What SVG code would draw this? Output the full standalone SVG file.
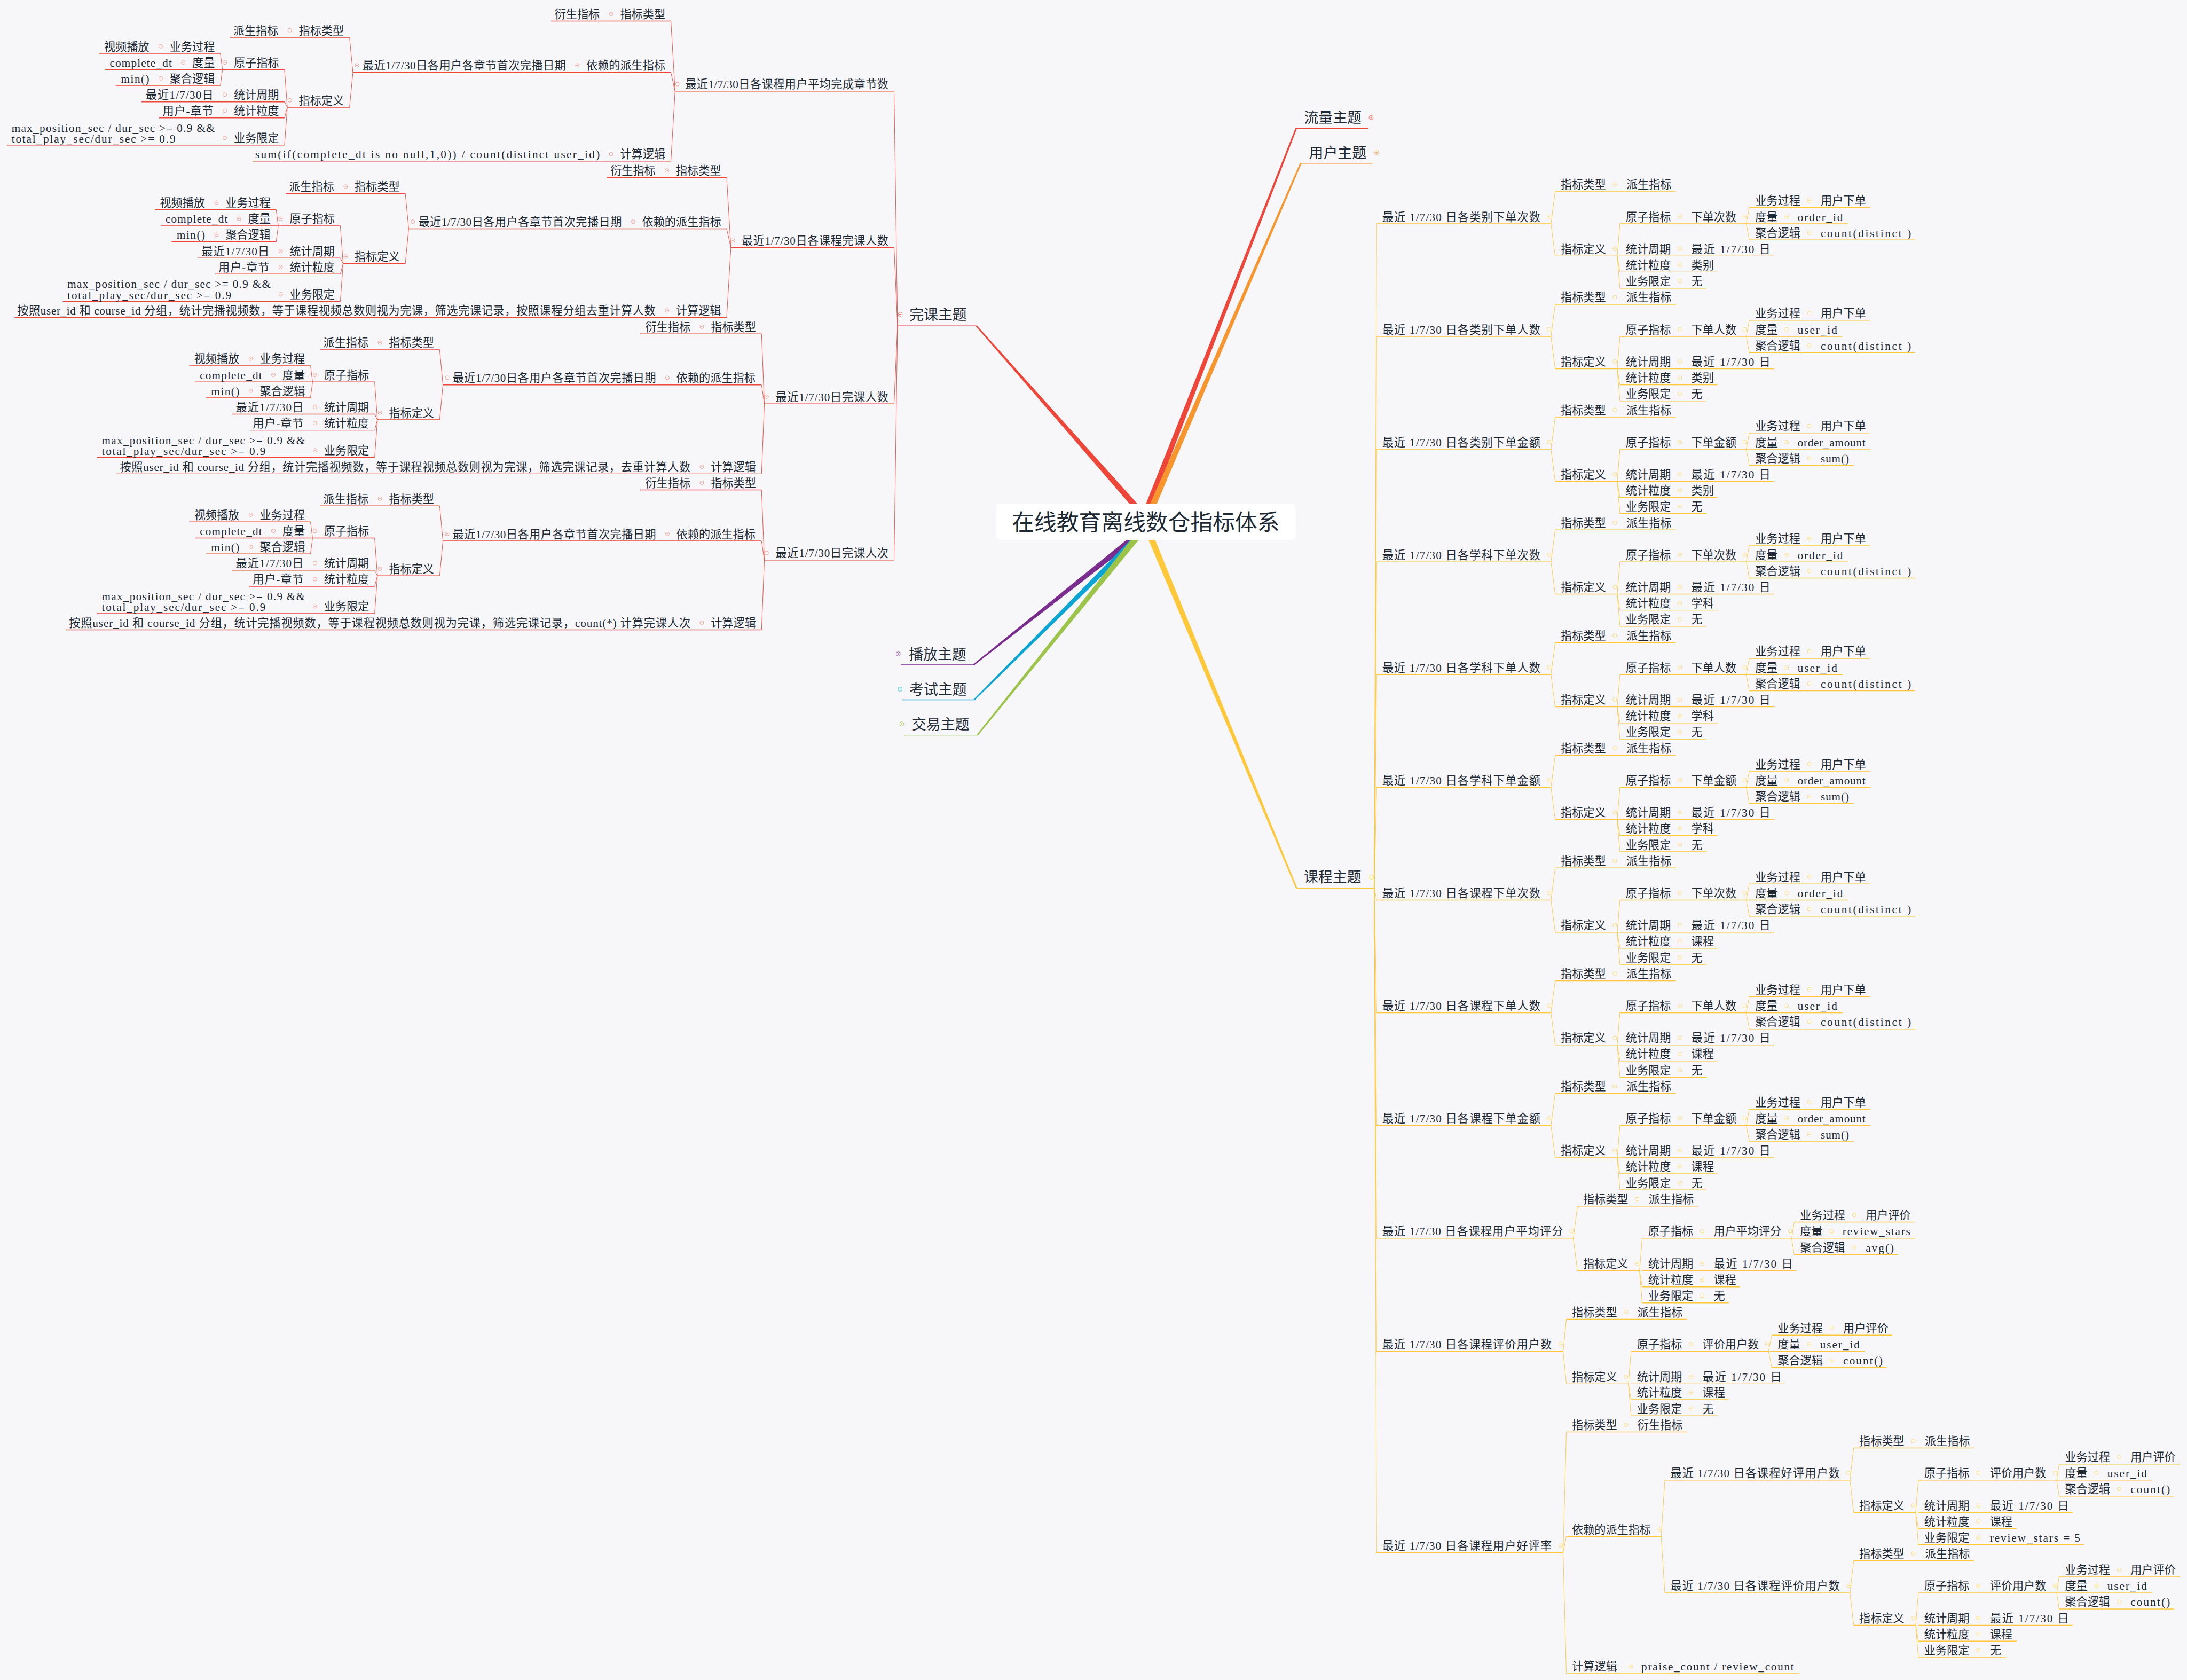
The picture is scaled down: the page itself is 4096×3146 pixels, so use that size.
<svg xmlns="http://www.w3.org/2000/svg" width="4096" height="3146" viewBox="0 0 4096 3146">
<defs>
<style>
.t{font-family:"Liberation Serif","Noto Sans CJK SC",serif;font-size:8.1px;fill:#1D2935}
.e{text-anchor:end}
.tp{font-size:10.3px}
.rt{font-family:"Liberation Serif","Noto Sans CJK SC",serif;font-size:16px;fill:#1D2935;text-anchor:middle}
.ur{fill:none;stroke:#EF463A;stroke-width:0.55}
.uy{fill:none;stroke:#FFC83A;stroke-width:0.55}
.cr{fill:none;stroke:#EF463A;stroke-width:0.35}
.cy{fill:none;stroke:#FFC83A;stroke-width:0.35}
</style>
<g id="mr"><circle r="1.35" fill="#fff" stroke="#F2857D" stroke-width="0.3"/><path d="M-0.7 0H0.7" stroke="#F2857D" stroke-width="0.3"/></g>
<g id="my"><circle r="1.35" fill="#fff" stroke="#FFCF5C" stroke-width="0.3"/><path d="M-0.7 0H0.7" stroke="#FFCF5C" stroke-width="0.3"/></g>
<g id="tR"><circle r="1.5" fill="#fff" stroke="#EF463A" stroke-width="0.3"/><path d="M-0.8 0H0.8" stroke="#EF463A" stroke-width="0.3"/></g>
<g id="tY"><circle r="1.5" fill="#fff" stroke="#FFC83A" stroke-width="0.3"/><path d="M-0.8 0H0.8" stroke="#FFC83A" stroke-width="0.3"/></g>
<g id="pR"><circle r="1.5" fill="#fff" stroke="#EF463A" stroke-width="0.3"/><path d="M-0.8 0H0.8M0 -0.8V0.8" stroke="#EF463A" stroke-width="0.3"/></g>
<g id="pO"><circle r="1.5" fill="#fff" stroke="#F7952E" stroke-width="0.3"/><path d="M-0.8 0H0.8M0 -0.8V0.8" stroke="#F7952E" stroke-width="0.3"/></g>
<g id="pP"><circle r="1.5" fill="#fff" stroke="#7B2D8E" stroke-width="0.3"/><path d="M-0.8 0H0.8M0 -0.8V0.8" stroke="#7B2D8E" stroke-width="0.3"/></g>
<g id="pC"><circle r="1.5" fill="#fff" stroke="#0AA5D3" stroke-width="0.3"/><path d="M-0.8 0H0.8M0 -0.8V0.8" stroke="#0AA5D3" stroke-width="0.3"/></g>
<g id="pG"><circle r="1.5" fill="#fff" stroke="#9CC34A" stroke-width="0.3"/><path d="M-0.8 0H0.8M0 -0.8V0.8" stroke="#9CC34A" stroke-width="0.3"/></g>
</defs>
<rect width="4096" height="3146" fill="#F7F7F9"/>
<g transform="scale(2.612245)">

<g id="branches">
<polygon fill="#EF463A" points="822.3,375.5 825.7,372.5 700.4,233.3 699.6,233.9"/>
<polygon fill="#EF463A" points="821,374.8 816.8,373.2 928.8,91.9 929.8,92.3"/>
<polygon fill="#F7952E" points="823.5,374.9 819.3,373.1 932.1,116.9 933.1,117.3"/>
<polygon fill="#FFC83A" points="822.5,373.1 818.3,374.9 929.1,636.9 930.1,636.5"/>
<polygon fill="#7B2D8E" points="821.4,381.8 818.6,378.2 697.7,476.2 698.3,477"/>
<polygon fill="#0AA5D3" points="821.6,382.1 818.4,378.9 698,501.4 698.8,502"/>
<polygon fill="#9CC34A" points="821,381.4 817.5,378.6 700.3,526.7 701.1,527.3"/>
</g>

<g id="connectors">
<g id="conn-wanke">
<path class="cr" d="M643.5 233.6L641 65.4M643.5 233.6L641 177.5M643.5 233.6L641 289.5M643.5 233.6L641 401.5"/>
<path class="cr" d="M484 65.4L481 15.1M484 65.4L481 52M484 65.4L481 115.5"/>
<path class="cr" d="M524 177.5L521 127.3M524 177.5L521 164M524 177.5L521 227.6"/>
<path class="cr" d="M548 289.5L546 239.3M548 289.5L546 275.9M548 289.5L546 339.7"/>
<path class="cr" d="M548 401.5L546 351.2M548 401.5L546 387.8M548 401.5L546 451.5"/>
<path id="cInner" class="cr" d="M253 52L250.6 26.8M253 52L250.6 77M206 77L204 49.9M206 77L204 73M206 77L204 84.5M206 77L204 104M159.5 49.9L158 38.3M159.5 49.9L158.6 49.9M159.5 49.9L158 61.3"/>
<use href="#cInner" transform="translate(40,112)"/>
<use href="#cInner" transform="translate(64.6,223.9)"/>
<use href="#cInner" transform="translate(64.6,335.8)"/>
</g>
<g id="conn-kecheng">
<path class="cy" d="M985.3 636.7L987 160.4M985.3 636.7L987 241.2M985.3 636.7L987 322M985.3 636.7L987 402.8M985.3 636.7L987 483.6M985.3 636.7L987 564.4M985.3 636.7L987 645.2M985.3 636.7L987 726M985.3 636.7L987 806.8M985.3 636.7L987 887.7M985.3 636.7L987 968.7M985.3 636.7L987 1113"/>
<path id="cBlk" class="cy" d="M1112 160.4L1115 137.4M1112 160.4L1115 183.5M1159.5 183.5L1161.4 160.4M1159.5 183.5L1161.4 183.5M1159.5 183.5L1161.4 195M1159.5 183.5L1161.4 206.6M1252 160.4L1254.2 148.8M1252 160.4L1252.7 160.4M1252 160.4L1254.2 172"/>
<use href="#cBlk" transform="translate(0,80.8)"/>
<use href="#cBlk" transform="translate(0,161.6)"/>
<use href="#cBlk" transform="translate(0,242.4)"/>
<use href="#cBlk" transform="translate(0,323.2)"/>
<use href="#cBlk" transform="translate(0,404)"/>
<use href="#cBlk" transform="translate(0,484.8)"/>
<use href="#cBlk" transform="translate(0,565.6)"/>
<use href="#cBlk" transform="translate(0,646.4)"/>
<path class="cy" d="M1128 887.7L1131 864.7M1128 887.7L1131 911M1175.5 911L1177.4 887.7M1175.5 911L1177.4 922.5M1175.5 911L1177.4 934M1284.5 887.7L1286.4 876.1M1284.5 887.7L1286.4 899.4"/>
<path class="cy" d="M1120.7 968.7L1123 945.7M1120.7 968.7L1123 992M1167.5 992L1169.4 968.7M1167.5 992L1169.4 1003.3M1167.5 992L1169.4 1014.9M1268 968.7L1270.3 957.1M1268 968.7L1270.3 980.3"/>
<path class="cy" d="M1120.7 1113L1123 1026.5M1120.7 1113L1123 1101.6M1120.7 1113L1123 1199.7M1191 1101.6L1193.6 1061.1M1191 1101.6L1193.6 1141.9"/>
<path id="cDer" class="cy" d="M1326.4 1061.1L1329 1038M1326.4 1061.1L1329 1084.3M1373.5 1084.3L1375.4 1061.1M1373.5 1084.3L1375.4 1095.7M1373.5 1084.3L1375.4 1107.4M1474.6 1061.1L1476.3 1049.6M1474.6 1061.1L1476.3 1072.6"/>
<use href="#cDer" transform="translate(0,80.8)"/>
</g>
</g>

<g id="root">
<rect x="714" y="361" width="215" height="26" rx="3" fill="#fff"/>
<text class="rt" x="821.5" y="380">在线教育离线数仓指标体系</text>
</g>

<g id="topic-liuliang"><path class="ur" d="M929 92.1H981"/><text class="t tp" x="935" y="88.2">流量主题</text><use href="#pR" x="983" y="84.3"/></g>
<g id="topic-yonghu"><path fill="none" stroke="#F7952E" stroke-width="0.55" d="M932.6 117.1H984"/><text class="t tp" x="938.5" y="113.3">用户主题</text><use href="#pO" x="987" y="109.4"/></g>
<g id="topic-bofang"><path fill="none" stroke="#7B2D8E" stroke-width="0.55" d="M646 476.6H698"/><text class="t tp" x="651.6" y="472.8">播放主题</text><use href="#pP" x="644" y="468.8"/></g>
<g id="topic-kaoshi"><path fill="none" stroke="#0AA5D3" stroke-width="0.55" d="M646.6 501.7H698.4"/><text class="t tp" x="652" y="497.9">考试主题</text><use href="#pC" x="645.3" y="494"/></g>
<g id="topic-jiaoyi"><path fill="none" stroke="#9CC34A" stroke-width="0.55" d="M648 527H700.7"/><text class="t tp" x="653.8" y="522.8">交易主题</text><use href="#pG" x="646.5" y="518.9"/></g>
<g id="topic-wanke"><path class="ur" d="M643.5 233.6H700"/><text class="t tp" x="652" y="229.4">完课主题</text><use href="#tR" x="645.4" y="225.3"/></g>
<g id="topic-kecheng"><path class="uy" d="M929.6 636.7H985.3"/><text class="t tp" x="934.8" y="632.3">课程主题</text><use href="#tY" x="983.3" y="628.8"/></g>

<!-- 完课主题 subtrees -->
<g id="wk1">
<g id="wk1-name"><path class="ur" d="M484 65.4H641"/><text class="t e" x="637" y="63.3" textLength="145.8">最近1/7/30日各课程用户平均完成章节数</text><use href="#mr" x="485.6" y="60.3"/></g>
<g id="wk1-type"><path class="ur" d="M395 15.1H481"/><text class="t e" x="477" y="13">指标类型</text><use href="#mr" x="438.2" y="10"/><text class="t e" x="430" y="13">衍生指标</text></g>
<g id="wk1-calc"><path class="ur" d="M181 115.5H481"/><text class="t e" x="477" y="113.4">计算逻辑</text><use href="#mr" x="438.2" y="110.4"/><text class="t e" x="430" y="113.4" textLength="247.05">sum(if(complete_dt is no null,1,0)) / count(distinct user_id)</text></g>
<g id="wk1-dep">
<g id="wk1-dep-name"><path class="ur" d="M253 52H481"/><text class="t e" x="477" y="49.9">依赖的派生指标</text><use href="#mr" x="413.9" y="46.9"/><text class="t e" x="405.7" y="49.9" textLength="145.8">最近1/7/30日各用户各章节首次完播日期</text><use href="#mr" x="256" y="46.9"/></g>
<g id="wk1-dep-type"><path class="ur" d="M165 26.8H250.6"/><text class="t e" x="246.6" y="24.7">指标类型</text><use href="#mr" x="207.8" y="21.7"/><text class="t e" x="199.6" y="24.7">派生指标</text></g>
<g id="wk1-dep-def"><path class="ur" d="M206 77H250.6"/><text class="t e" x="246.6" y="74.9">指标定义</text><use href="#mr" x="207.8" y="71.9"/></g>
<g id="wk1-dep-atom"><path class="ur" d="M159.5 49.9H204"/><text class="t e" x="200" y="47.8">原子指标</text><use href="#mr" x="161.2" y="44.8"/></g>
<g id="wk1-dep-period"><path class="ur" d="M101.5 73H204"/><text class="t e" x="200" y="70.9">统计周期</text><use href="#mr" x="161.2" y="67.9"/><text class="t e" x="153" y="70.9" textLength="48.6">最近1/7/30日</text></g>
<g id="wk1-dep-grain"><path class="ur" d="M114 84.5H204"/><text class="t e" x="200" y="82.4">统计粒度</text><use href="#mr" x="161.2" y="79.4"/><text class="t e" x="153" y="82.4" textLength="36.45">用户-章节</text></g>
<g id="wk1-dep-limit"><path class="ur" d="M5 104H204"/><text class="t e" x="200" y="101.9">业务限定</text><use href="#mr" x="161.2" y="98.9"/><text class="t" x="8.3" y="94.5" textLength="145.8">max_position_sec / dur_sec &gt;= 0.9 &amp;&amp;</text><text class="t" x="8.3" y="102.2" textLength="117.45">total_play_sec/dur_sec &gt;= 0.9</text></g>
<g id="wk1-dep-proc"><path class="ur" d="M71 38.3H158"/><text class="t e" x="154" y="36.2">业务过程</text><use href="#mr" x="115.2" y="33.2"/><text class="t e" x="107" y="36.2">视频播放</text></g>
<g id="wk1-dep-meas"><path class="ur" d="M75.4 49.9H158.6"/><text class="t e" x="154" y="47.8">度量</text><use href="#mr" x="131.4" y="44.8"/><text class="t e" x="123.2" y="47.8" textLength="44.55">complete_dt</text></g>
<g id="wk1-dep-agg"><path class="ur" d="M83 61.3H158"/><text class="t e" x="154" y="59.2">聚合逻辑</text><use href="#mr" x="115.2" y="56.2"/><text class="t e" x="107" y="59.2" textLength="20.25">min()</text></g>
</g>
</g>

<g id="wk2">
<g id="wk2-name"><path class="ur" d="M524 177.5H641"/><text class="t e" x="637" y="175.4" textLength="105.3">最近1/7/30日各课程完课人数</text><use href="#mr" x="525.4" y="172.4"/></g>
<g id="wk2-type"><path class="ur" d="M435 127.3H521"/><text class="t e" x="517" y="125.2">指标类型</text><use href="#mr" x="478.2" y="122.2"/><text class="t e" x="470" y="125.2">衍生指标</text></g>
<g id="wk2-calc"><path class="ur" d="M10.4 227.6H521"/><text class="t e" x="517" y="225.5">计算逻辑</text><use href="#mr" x="478.2" y="222.5"/><text class="t e" x="470" y="225.5" textLength="457.65">按照user_id 和 course_id 分组，统计完播视频数，等于课程视频总数则视为完课，筛选完课记录，按照课程分组去重计算人数</text></g>
<g id="wk2-dep" transform="translate(40,112)">
<g id="wk2-dep-name"><path class="ur" d="M253 52H481"/><text class="t e" x="477" y="49.9">依赖的派生指标</text><use href="#mr" x="413.9" y="46.9"/><text class="t e" x="405.7" y="49.9" textLength="145.8">最近1/7/30日各用户各章节首次完播日期</text><use href="#mr" x="256" y="46.9"/></g>
<g id="wk2-dep-type"><path class="ur" d="M165 26.8H250.6"/><text class="t e" x="246.6" y="24.7">指标类型</text><use href="#mr" x="207.8" y="21.7"/><text class="t e" x="199.6" y="24.7">派生指标</text></g>
<g id="wk2-dep-def"><path class="ur" d="M206 77H250.6"/><text class="t e" x="246.6" y="74.9">指标定义</text><use href="#mr" x="207.8" y="71.9"/></g>
<g id="wk2-dep-atom"><path class="ur" d="M159.5 49.9H204"/><text class="t e" x="200" y="47.8">原子指标</text><use href="#mr" x="161.2" y="44.8"/></g>
<g id="wk2-dep-period"><path class="ur" d="M101.5 73H204"/><text class="t e" x="200" y="70.9">统计周期</text><use href="#mr" x="161.2" y="67.9"/><text class="t e" x="153" y="70.9" textLength="48.6">最近1/7/30日</text></g>
<g id="wk2-dep-grain"><path class="ur" d="M114 84.5H204"/><text class="t e" x="200" y="82.4">统计粒度</text><use href="#mr" x="161.2" y="79.4"/><text class="t e" x="153" y="82.4" textLength="36.45">用户-章节</text></g>
<g id="wk2-dep-limit"><path class="ur" d="M5 104H204"/><text class="t e" x="200" y="101.9">业务限定</text><use href="#mr" x="161.2" y="98.9"/><text class="t" x="8.3" y="94.5" textLength="145.8">max_position_sec / dur_sec &gt;= 0.9 &amp;&amp;</text><text class="t" x="8.3" y="102.2" textLength="117.45">total_play_sec/dur_sec &gt;= 0.9</text></g>
<g id="wk2-dep-proc"><path class="ur" d="M71 38.3H158"/><text class="t e" x="154" y="36.2">业务过程</text><use href="#mr" x="115.2" y="33.2"/><text class="t e" x="107" y="36.2">视频播放</text></g>
<g id="wk2-dep-meas"><path class="ur" d="M75.4 49.9H158.6"/><text class="t e" x="154" y="47.8">度量</text><use href="#mr" x="131.4" y="44.8"/><text class="t e" x="123.2" y="47.8" textLength="44.55">complete_dt</text></g>
<g id="wk2-dep-agg"><path class="ur" d="M83 61.3H158"/><text class="t e" x="154" y="59.2">聚合逻辑</text><use href="#mr" x="115.2" y="56.2"/><text class="t e" x="107" y="59.2" textLength="20.25">min()</text></g>
</g>
</g>

<g id="wk3">
<g id="wk3-name"><path class="ur" d="M548 289.5H641"/><text class="t e" x="637" y="287.4" textLength="81">最近1/7/30日完课人数</text><use href="#mr" x="549.6" y="284.4"/></g>
<g id="wk3-type"><path class="ur" d="M459 239.3H546"/><text class="t e" x="542" y="237.2">指标类型</text><use href="#mr" x="503.2" y="234.2"/><text class="t e" x="495" y="237.2">衍生指标</text></g>
<g id="wk3-calc"><path class="ur" d="M83 339.7H546"/><text class="t e" x="542" y="337.6">计算逻辑</text><use href="#mr" x="503.2" y="334.6"/><text class="t e" x="495" y="337.6" textLength="409.05">按照user_id 和 course_id 分组，统计完播视频数，等于课程视频总数则视为完课，筛选完课记录，去重计算人数</text></g>
<g id="wk3-dep" transform="translate(64.6,223.9)">
<g id="wk3-dep-name"><path class="ur" d="M253 52H481"/><text class="t e" x="477" y="49.9">依赖的派生指标</text><use href="#mr" x="413.9" y="46.9"/><text class="t e" x="405.7" y="49.9" textLength="145.8">最近1/7/30日各用户各章节首次完播日期</text><use href="#mr" x="256" y="46.9"/></g>
<g id="wk3-dep-type"><path class="ur" d="M165 26.8H250.6"/><text class="t e" x="246.6" y="24.7">指标类型</text><use href="#mr" x="207.8" y="21.7"/><text class="t e" x="199.6" y="24.7">派生指标</text></g>
<g id="wk3-dep-def"><path class="ur" d="M206 77H250.6"/><text class="t e" x="246.6" y="74.9">指标定义</text><use href="#mr" x="207.8" y="71.9"/></g>
<g id="wk3-dep-atom"><path class="ur" d="M159.5 49.9H204"/><text class="t e" x="200" y="47.8">原子指标</text><use href="#mr" x="161.2" y="44.8"/></g>
<g id="wk3-dep-period"><path class="ur" d="M101.5 73H204"/><text class="t e" x="200" y="70.9">统计周期</text><use href="#mr" x="161.2" y="67.9"/><text class="t e" x="153" y="70.9" textLength="48.6">最近1/7/30日</text></g>
<g id="wk3-dep-grain"><path class="ur" d="M114 84.5H204"/><text class="t e" x="200" y="82.4">统计粒度</text><use href="#mr" x="161.2" y="79.4"/><text class="t e" x="153" y="82.4" textLength="36.45">用户-章节</text></g>
<g id="wk3-dep-limit"><path class="ur" d="M5 104H204"/><text class="t e" x="200" y="101.9">业务限定</text><use href="#mr" x="161.2" y="98.9"/><text class="t" x="8.3" y="94.5" textLength="145.8">max_position_sec / dur_sec &gt;= 0.9 &amp;&amp;</text><text class="t" x="8.3" y="102.2" textLength="117.45">total_play_sec/dur_sec &gt;= 0.9</text></g>
<g id="wk3-dep-proc"><path class="ur" d="M71 38.3H158"/><text class="t e" x="154" y="36.2">业务过程</text><use href="#mr" x="115.2" y="33.2"/><text class="t e" x="107" y="36.2">视频播放</text></g>
<g id="wk3-dep-meas"><path class="ur" d="M75.4 49.9H158.6"/><text class="t e" x="154" y="47.8">度量</text><use href="#mr" x="131.4" y="44.8"/><text class="t e" x="123.2" y="47.8" textLength="44.55">complete_dt</text></g>
<g id="wk3-dep-agg"><path class="ur" d="M83 61.3H158"/><text class="t e" x="154" y="59.2">聚合逻辑</text><use href="#mr" x="115.2" y="56.2"/><text class="t e" x="107" y="59.2" textLength="20.25">min()</text></g>
</g>
</g>

<g id="wk4">
<g id="wk4-name"><path class="ur" d="M548 401.5H641"/><text class="t e" x="637" y="399.4" textLength="81">最近1/7/30日完课人次</text><use href="#mr" x="549.6" y="396.4"/></g>
<g id="wk4-type"><path class="ur" d="M459 351.2H546"/><text class="t e" x="542" y="349.1">指标类型</text><use href="#mr" x="503.2" y="346.1"/><text class="t e" x="495" y="349.1">衍生指标</text></g>
<g id="wk4-calc"><path class="ur" d="M47 451.5H546"/><text class="t e" x="542" y="449.4">计算逻辑</text><use href="#mr" x="503.2" y="446.4"/><text class="t e" x="495" y="449.4" textLength="445.5">按照user_id 和 course_id 分组，统计完播视频数，等于课程视频总数则视为完课，筛选完课记录，count(*) 计算完课人次</text></g>
<g id="wk4-dep" transform="translate(64.6,335.8)">
<g id="wk4-dep-name"><path class="ur" d="M253 52H481"/><text class="t e" x="477" y="49.9">依赖的派生指标</text><use href="#mr" x="413.9" y="46.9"/><text class="t e" x="405.7" y="49.9" textLength="145.8">最近1/7/30日各用户各章节首次完播日期</text><use href="#mr" x="256" y="46.9"/></g>
<g id="wk4-dep-type"><path class="ur" d="M165 26.8H250.6"/><text class="t e" x="246.6" y="24.7">指标类型</text><use href="#mr" x="207.8" y="21.7"/><text class="t e" x="199.6" y="24.7">派生指标</text></g>
<g id="wk4-dep-def"><path class="ur" d="M206 77H250.6"/><text class="t e" x="246.6" y="74.9">指标定义</text><use href="#mr" x="207.8" y="71.9"/></g>
<g id="wk4-dep-atom"><path class="ur" d="M159.5 49.9H204"/><text class="t e" x="200" y="47.8">原子指标</text><use href="#mr" x="161.2" y="44.8"/></g>
<g id="wk4-dep-period"><path class="ur" d="M101.5 73H204"/><text class="t e" x="200" y="70.9">统计周期</text><use href="#mr" x="161.2" y="67.9"/><text class="t e" x="153" y="70.9" textLength="48.6">最近1/7/30日</text></g>
<g id="wk4-dep-grain"><path class="ur" d="M114 84.5H204"/><text class="t e" x="200" y="82.4">统计粒度</text><use href="#mr" x="161.2" y="79.4"/><text class="t e" x="153" y="82.4" textLength="36.45">用户-章节</text></g>
<g id="wk4-dep-limit"><path class="ur" d="M5 104H204"/><text class="t e" x="200" y="101.9">业务限定</text><use href="#mr" x="161.2" y="98.9"/><text class="t" x="8.3" y="94.5" textLength="145.8">max_position_sec / dur_sec &gt;= 0.9 &amp;&amp;</text><text class="t" x="8.3" y="102.2" textLength="117.45">total_play_sec/dur_sec &gt;= 0.9</text></g>
<g id="wk4-dep-proc"><path class="ur" d="M71 38.3H158"/><text class="t e" x="154" y="36.2">业务过程</text><use href="#mr" x="115.2" y="33.2"/><text class="t e" x="107" y="36.2">视频播放</text></g>
<g id="wk4-dep-meas"><path class="ur" d="M75.4 49.9H158.6"/><text class="t e" x="154" y="47.8">度量</text><use href="#mr" x="131.4" y="44.8"/><text class="t e" x="123.2" y="47.8" textLength="44.55">complete_dt</text></g>
<g id="wk4-dep-agg"><path class="ur" d="M83 61.3H158"/><text class="t e" x="154" y="59.2">聚合逻辑</text><use href="#mr" x="115.2" y="56.2"/><text class="t e" x="107" y="59.2" textLength="20.25">min()</text></g>
</g>
</g>

<!-- 课程主题 blocks -->
<g id="kc1">
<g id="kc1-name"><path class="uy" d="M987 160.4H1112"/><text class="t" x="991" y="158.3" textLength="113.4">最近 1/7/30 日各类别下单次数</text><use href="#my" x="1110.6" y="155.3"/></g>
<g id="kc1-type"><path class="uy" d="M1115 137.4H1201.5"/><text class="t" x="1119" y="135.3">指标类型</text><use href="#my" x="1157.8" y="132.3"/><text class="t" x="1166" y="135.3">派生指标</text></g>
<g id="kc1-def"><path class="uy" d="M1115 183.5H1159.5"/><text class="t" x="1119" y="181.4">指标定义</text><use href="#my" x="1157.8" y="178.4"/></g>
<g id="kc1-atom"><path class="uy" d="M1161.4 160.4H1252"/><text class="t" x="1165.6" y="158.3">原子指标</text><use href="#my" x="1204.4" y="155.3"/><text class="t" x="1212.6" y="158.3">下单次数</text><use href="#my" x="1250.8" y="155.3"/></g>
<g id="kc1-period"><path class="uy" d="M1161.4 183.5H1272"/><text class="t" x="1165.6" y="181.4">统计周期</text><use href="#my" x="1204.4" y="178.4"/><text class="t" x="1212.6" y="181.4" textLength="56.7">最近 1/7/30 日</text></g>
<g id="kc1-grain"><path class="uy" d="M1161.4 195H1231.4"/><text class="t" x="1165.6" y="192.9">统计粒度</text><use href="#my" x="1204.4" y="189.9"/><text class="t" x="1212.6" y="192.9">类别</text></g>
<g id="kc1-limit"><path class="uy" d="M1161.4 206.6H1223.5"/><text class="t" x="1165.6" y="204.5">业务限定</text><use href="#my" x="1204.4" y="201.5"/><text class="t" x="1212.6" y="204.5">无</text></g>
<g id="kc1-proc"><path class="uy" d="M1254.2 148.8H1340.7"/><text class="t" x="1258.4" y="146.7">业务过程</text><use href="#my" x="1297.2" y="143.7"/><text class="t" x="1305.4" y="146.7">用户下单</text></g>
<g id="kc1-meas"><path class="uy" d="M1252.7 160.4H1325"/><text class="t" x="1258.4" y="158.3">度量</text><use href="#my" x="1281" y="155.3"/><text class="t" x="1288.8" y="158.3" textLength="32.4">order_id</text></g>
<g id="kc1-agg"><path class="uy" d="M1254.2 172H1373"/><text class="t" x="1258.4" y="169.9">聚合逻辑</text><use href="#my" x="1297.2" y="166.9"/><text class="t" x="1305.4" y="169.9" textLength="64.8">count(distinct )</text></g>
</g>

<g id="kc2" transform="translate(0,80.8)">
<g id="kc2-name"><path class="uy" d="M987 160.4H1112"/><text class="t" x="991" y="158.3" textLength="113.4">最近 1/7/30 日各类别下单人数</text><use href="#my" x="1110.6" y="155.3"/></g>
<g id="kc2-type"><path class="uy" d="M1115 137.4H1201.5"/><text class="t" x="1119" y="135.3">指标类型</text><use href="#my" x="1157.8" y="132.3"/><text class="t" x="1166" y="135.3">派生指标</text></g>
<g id="kc2-def"><path class="uy" d="M1115 183.5H1159.5"/><text class="t" x="1119" y="181.4">指标定义</text><use href="#my" x="1157.8" y="178.4"/></g>
<g id="kc2-atom"><path class="uy" d="M1161.4 160.4H1252"/><text class="t" x="1165.6" y="158.3">原子指标</text><use href="#my" x="1204.4" y="155.3"/><text class="t" x="1212.6" y="158.3">下单人数</text><use href="#my" x="1250.8" y="155.3"/></g>
<g id="kc2-period"><path class="uy" d="M1161.4 183.5H1272"/><text class="t" x="1165.6" y="181.4">统计周期</text><use href="#my" x="1204.4" y="178.4"/><text class="t" x="1212.6" y="181.4" textLength="56.7">最近 1/7/30 日</text></g>
<g id="kc2-grain"><path class="uy" d="M1161.4 195H1231.4"/><text class="t" x="1165.6" y="192.9">统计粒度</text><use href="#my" x="1204.4" y="189.9"/><text class="t" x="1212.6" y="192.9">类别</text></g>
<g id="kc2-limit"><path class="uy" d="M1161.4 206.6H1223.5"/><text class="t" x="1165.6" y="204.5">业务限定</text><use href="#my" x="1204.4" y="201.5"/><text class="t" x="1212.6" y="204.5">无</text></g>
<g id="kc2-proc"><path class="uy" d="M1254.2 148.8H1340.7"/><text class="t" x="1258.4" y="146.7">业务过程</text><use href="#my" x="1297.2" y="143.7"/><text class="t" x="1305.4" y="146.7">用户下单</text></g>
<g id="kc2-meas"><path class="uy" d="M1252.7 160.4H1321"/><text class="t" x="1258.4" y="158.3">度量</text><use href="#my" x="1281" y="155.3"/><text class="t" x="1288.8" y="158.3" textLength="28.35">user_id</text></g>
<g id="kc2-agg"><path class="uy" d="M1254.2 172H1373"/><text class="t" x="1258.4" y="169.9">聚合逻辑</text><use href="#my" x="1297.2" y="166.9"/><text class="t" x="1305.4" y="169.9" textLength="64.8">count(distinct )</text></g>
</g>

<g id="kc3" transform="translate(0,161.6)">
<g id="kc3-name"><path class="uy" d="M987 160.4H1112"/><text class="t" x="991" y="158.3" textLength="113.4">最近 1/7/30 日各类别下单金额</text><use href="#my" x="1110.6" y="155.3"/></g>
<g id="kc3-type"><path class="uy" d="M1115 137.4H1201.5"/><text class="t" x="1119" y="135.3">指标类型</text><use href="#my" x="1157.8" y="132.3"/><text class="t" x="1166" y="135.3">派生指标</text></g>
<g id="kc3-def"><path class="uy" d="M1115 183.5H1159.5"/><text class="t" x="1119" y="181.4">指标定义</text><use href="#my" x="1157.8" y="178.4"/></g>
<g id="kc3-atom"><path class="uy" d="M1161.4 160.4H1252"/><text class="t" x="1165.6" y="158.3">原子指标</text><use href="#my" x="1204.4" y="155.3"/><text class="t" x="1212.6" y="158.3">下单金额</text><use href="#my" x="1250.8" y="155.3"/></g>
<g id="kc3-period"><path class="uy" d="M1161.4 183.5H1272"/><text class="t" x="1165.6" y="181.4">统计周期</text><use href="#my" x="1204.4" y="178.4"/><text class="t" x="1212.6" y="181.4" textLength="56.7">最近 1/7/30 日</text></g>
<g id="kc3-grain"><path class="uy" d="M1161.4 195H1231.4"/><text class="t" x="1165.6" y="192.9">统计粒度</text><use href="#my" x="1204.4" y="189.9"/><text class="t" x="1212.6" y="192.9">类别</text></g>
<g id="kc3-limit"><path class="uy" d="M1161.4 206.6H1223.5"/><text class="t" x="1165.6" y="204.5">业务限定</text><use href="#my" x="1204.4" y="201.5"/><text class="t" x="1212.6" y="204.5">无</text></g>
<g id="kc3-proc"><path class="uy" d="M1254.2 148.8H1340.7"/><text class="t" x="1258.4" y="146.7">业务过程</text><use href="#my" x="1297.2" y="143.7"/><text class="t" x="1305.4" y="146.7">用户下单</text></g>
<g id="kc3-meas"><path class="uy" d="M1252.7 160.4H1341"/><text class="t" x="1258.4" y="158.3">度量</text><use href="#my" x="1281" y="155.3"/><text class="t" x="1288.8" y="158.3" textLength="48.6">order_amount</text></g>
<g id="kc3-agg"><path class="uy" d="M1254.2 172H1329"/><text class="t" x="1258.4" y="169.9">聚合逻辑</text><use href="#my" x="1297.2" y="166.9"/><text class="t" x="1305.4" y="169.9" textLength="20.25">sum()</text></g>
</g>

<g id="kc4" transform="translate(0,242.4)">
<g id="kc4-name"><path class="uy" d="M987 160.4H1112"/><text class="t" x="991" y="158.3" textLength="113.4">最近 1/7/30 日各学科下单次数</text><use href="#my" x="1110.6" y="155.3"/></g>
<g id="kc4-type"><path class="uy" d="M1115 137.4H1201.5"/><text class="t" x="1119" y="135.3">指标类型</text><use href="#my" x="1157.8" y="132.3"/><text class="t" x="1166" y="135.3">派生指标</text></g>
<g id="kc4-def"><path class="uy" d="M1115 183.5H1159.5"/><text class="t" x="1119" y="181.4">指标定义</text><use href="#my" x="1157.8" y="178.4"/></g>
<g id="kc4-atom"><path class="uy" d="M1161.4 160.4H1252"/><text class="t" x="1165.6" y="158.3">原子指标</text><use href="#my" x="1204.4" y="155.3"/><text class="t" x="1212.6" y="158.3">下单次数</text><use href="#my" x="1250.8" y="155.3"/></g>
<g id="kc4-period"><path class="uy" d="M1161.4 183.5H1272"/><text class="t" x="1165.6" y="181.4">统计周期</text><use href="#my" x="1204.4" y="178.4"/><text class="t" x="1212.6" y="181.4" textLength="56.7">最近 1/7/30 日</text></g>
<g id="kc4-grain"><path class="uy" d="M1161.4 195H1231.4"/><text class="t" x="1165.6" y="192.9">统计粒度</text><use href="#my" x="1204.4" y="189.9"/><text class="t" x="1212.6" y="192.9">学科</text></g>
<g id="kc4-limit"><path class="uy" d="M1161.4 206.6H1223.5"/><text class="t" x="1165.6" y="204.5">业务限定</text><use href="#my" x="1204.4" y="201.5"/><text class="t" x="1212.6" y="204.5">无</text></g>
<g id="kc4-proc"><path class="uy" d="M1254.2 148.8H1340.7"/><text class="t" x="1258.4" y="146.7">业务过程</text><use href="#my" x="1297.2" y="143.7"/><text class="t" x="1305.4" y="146.7">用户下单</text></g>
<g id="kc4-meas"><path class="uy" d="M1252.7 160.4H1325"/><text class="t" x="1258.4" y="158.3">度量</text><use href="#my" x="1281" y="155.3"/><text class="t" x="1288.8" y="158.3" textLength="32.4">order_id</text></g>
<g id="kc4-agg"><path class="uy" d="M1254.2 172H1373"/><text class="t" x="1258.4" y="169.9">聚合逻辑</text><use href="#my" x="1297.2" y="166.9"/><text class="t" x="1305.4" y="169.9" textLength="64.8">count(distinct )</text></g>
</g>

<g id="kc5" transform="translate(0,323.2)">
<g id="kc5-name"><path class="uy" d="M987 160.4H1112"/><text class="t" x="991" y="158.3" textLength="113.4">最近 1/7/30 日各学科下单人数</text><use href="#my" x="1110.6" y="155.3"/></g>
<g id="kc5-type"><path class="uy" d="M1115 137.4H1201.5"/><text class="t" x="1119" y="135.3">指标类型</text><use href="#my" x="1157.8" y="132.3"/><text class="t" x="1166" y="135.3">派生指标</text></g>
<g id="kc5-def"><path class="uy" d="M1115 183.5H1159.5"/><text class="t" x="1119" y="181.4">指标定义</text><use href="#my" x="1157.8" y="178.4"/></g>
<g id="kc5-atom"><path class="uy" d="M1161.4 160.4H1252"/><text class="t" x="1165.6" y="158.3">原子指标</text><use href="#my" x="1204.4" y="155.3"/><text class="t" x="1212.6" y="158.3">下单人数</text><use href="#my" x="1250.8" y="155.3"/></g>
<g id="kc5-period"><path class="uy" d="M1161.4 183.5H1272"/><text class="t" x="1165.6" y="181.4">统计周期</text><use href="#my" x="1204.4" y="178.4"/><text class="t" x="1212.6" y="181.4" textLength="56.7">最近 1/7/30 日</text></g>
<g id="kc5-grain"><path class="uy" d="M1161.4 195H1231.4"/><text class="t" x="1165.6" y="192.9">统计粒度</text><use href="#my" x="1204.4" y="189.9"/><text class="t" x="1212.6" y="192.9">学科</text></g>
<g id="kc5-limit"><path class="uy" d="M1161.4 206.6H1223.5"/><text class="t" x="1165.6" y="204.5">业务限定</text><use href="#my" x="1204.4" y="201.5"/><text class="t" x="1212.6" y="204.5">无</text></g>
<g id="kc5-proc"><path class="uy" d="M1254.2 148.8H1340.7"/><text class="t" x="1258.4" y="146.7">业务过程</text><use href="#my" x="1297.2" y="143.7"/><text class="t" x="1305.4" y="146.7">用户下单</text></g>
<g id="kc5-meas"><path class="uy" d="M1252.7 160.4H1321"/><text class="t" x="1258.4" y="158.3">度量</text><use href="#my" x="1281" y="155.3"/><text class="t" x="1288.8" y="158.3" textLength="28.35">user_id</text></g>
<g id="kc5-agg"><path class="uy" d="M1254.2 172H1373"/><text class="t" x="1258.4" y="169.9">聚合逻辑</text><use href="#my" x="1297.2" y="166.9"/><text class="t" x="1305.4" y="169.9" textLength="64.8">count(distinct )</text></g>
</g>

<g id="kc6" transform="translate(0,404)">
<g id="kc6-name"><path class="uy" d="M987 160.4H1112"/><text class="t" x="991" y="158.3" textLength="113.4">最近 1/7/30 日各学科下单金额</text><use href="#my" x="1110.6" y="155.3"/></g>
<g id="kc6-type"><path class="uy" d="M1115 137.4H1201.5"/><text class="t" x="1119" y="135.3">指标类型</text><use href="#my" x="1157.8" y="132.3"/><text class="t" x="1166" y="135.3">派生指标</text></g>
<g id="kc6-def"><path class="uy" d="M1115 183.5H1159.5"/><text class="t" x="1119" y="181.4">指标定义</text><use href="#my" x="1157.8" y="178.4"/></g>
<g id="kc6-atom"><path class="uy" d="M1161.4 160.4H1252"/><text class="t" x="1165.6" y="158.3">原子指标</text><use href="#my" x="1204.4" y="155.3"/><text class="t" x="1212.6" y="158.3">下单金额</text><use href="#my" x="1250.8" y="155.3"/></g>
<g id="kc6-period"><path class="uy" d="M1161.4 183.5H1272"/><text class="t" x="1165.6" y="181.4">统计周期</text><use href="#my" x="1204.4" y="178.4"/><text class="t" x="1212.6" y="181.4" textLength="56.7">最近 1/7/30 日</text></g>
<g id="kc6-grain"><path class="uy" d="M1161.4 195H1231.4"/><text class="t" x="1165.6" y="192.9">统计粒度</text><use href="#my" x="1204.4" y="189.9"/><text class="t" x="1212.6" y="192.9">学科</text></g>
<g id="kc6-limit"><path class="uy" d="M1161.4 206.6H1223.5"/><text class="t" x="1165.6" y="204.5">业务限定</text><use href="#my" x="1204.4" y="201.5"/><text class="t" x="1212.6" y="204.5">无</text></g>
<g id="kc6-proc"><path class="uy" d="M1254.2 148.8H1340.7"/><text class="t" x="1258.4" y="146.7">业务过程</text><use href="#my" x="1297.2" y="143.7"/><text class="t" x="1305.4" y="146.7">用户下单</text></g>
<g id="kc6-meas"><path class="uy" d="M1252.7 160.4H1341"/><text class="t" x="1258.4" y="158.3">度量</text><use href="#my" x="1281" y="155.3"/><text class="t" x="1288.8" y="158.3" textLength="48.6">order_amount</text></g>
<g id="kc6-agg"><path class="uy" d="M1254.2 172H1329"/><text class="t" x="1258.4" y="169.9">聚合逻辑</text><use href="#my" x="1297.2" y="166.9"/><text class="t" x="1305.4" y="169.9" textLength="20.25">sum()</text></g>
</g>

<g id="kc7" transform="translate(0,484.8)">
<g id="kc7-name"><path class="uy" d="M987 160.4H1112"/><text class="t" x="991" y="158.3" textLength="113.4">最近 1/7/30 日各课程下单次数</text><use href="#my" x="1110.6" y="155.3"/></g>
<g id="kc7-type"><path class="uy" d="M1115 137.4H1201.5"/><text class="t" x="1119" y="135.3">指标类型</text><use href="#my" x="1157.8" y="132.3"/><text class="t" x="1166" y="135.3">派生指标</text></g>
<g id="kc7-def"><path class="uy" d="M1115 183.5H1159.5"/><text class="t" x="1119" y="181.4">指标定义</text><use href="#my" x="1157.8" y="178.4"/></g>
<g id="kc7-atom"><path class="uy" d="M1161.4 160.4H1252"/><text class="t" x="1165.6" y="158.3">原子指标</text><use href="#my" x="1204.4" y="155.3"/><text class="t" x="1212.6" y="158.3">下单次数</text><use href="#my" x="1250.8" y="155.3"/></g>
<g id="kc7-period"><path class="uy" d="M1161.4 183.5H1272"/><text class="t" x="1165.6" y="181.4">统计周期</text><use href="#my" x="1204.4" y="178.4"/><text class="t" x="1212.6" y="181.4" textLength="56.7">最近 1/7/30 日</text></g>
<g id="kc7-grain"><path class="uy" d="M1161.4 195H1231.4"/><text class="t" x="1165.6" y="192.9">统计粒度</text><use href="#my" x="1204.4" y="189.9"/><text class="t" x="1212.6" y="192.9">课程</text></g>
<g id="kc7-limit"><path class="uy" d="M1161.4 206.6H1223.5"/><text class="t" x="1165.6" y="204.5">业务限定</text><use href="#my" x="1204.4" y="201.5"/><text class="t" x="1212.6" y="204.5">无</text></g>
<g id="kc7-proc"><path class="uy" d="M1254.2 148.8H1340.7"/><text class="t" x="1258.4" y="146.7">业务过程</text><use href="#my" x="1297.2" y="143.7"/><text class="t" x="1305.4" y="146.7">用户下单</text></g>
<g id="kc7-meas"><path class="uy" d="M1252.7 160.4H1325"/><text class="t" x="1258.4" y="158.3">度量</text><use href="#my" x="1281" y="155.3"/><text class="t" x="1288.8" y="158.3" textLength="32.4">order_id</text></g>
<g id="kc7-agg"><path class="uy" d="M1254.2 172H1373"/><text class="t" x="1258.4" y="169.9">聚合逻辑</text><use href="#my" x="1297.2" y="166.9"/><text class="t" x="1305.4" y="169.9" textLength="64.8">count(distinct )</text></g>
</g>

<g id="kc8" transform="translate(0,565.6)">
<g id="kc8-name"><path class="uy" d="M987 160.4H1112"/><text class="t" x="991" y="158.3" textLength="113.4">最近 1/7/30 日各课程下单人数</text><use href="#my" x="1110.6" y="155.3"/></g>
<g id="kc8-type"><path class="uy" d="M1115 137.4H1201.5"/><text class="t" x="1119" y="135.3">指标类型</text><use href="#my" x="1157.8" y="132.3"/><text class="t" x="1166" y="135.3">派生指标</text></g>
<g id="kc8-def"><path class="uy" d="M1115 183.5H1159.5"/><text class="t" x="1119" y="181.4">指标定义</text><use href="#my" x="1157.8" y="178.4"/></g>
<g id="kc8-atom"><path class="uy" d="M1161.4 160.4H1252"/><text class="t" x="1165.6" y="158.3">原子指标</text><use href="#my" x="1204.4" y="155.3"/><text class="t" x="1212.6" y="158.3">下单人数</text><use href="#my" x="1250.8" y="155.3"/></g>
<g id="kc8-period"><path class="uy" d="M1161.4 183.5H1272"/><text class="t" x="1165.6" y="181.4">统计周期</text><use href="#my" x="1204.4" y="178.4"/><text class="t" x="1212.6" y="181.4" textLength="56.7">最近 1/7/30 日</text></g>
<g id="kc8-grain"><path class="uy" d="M1161.4 195H1231.4"/><text class="t" x="1165.6" y="192.9">统计粒度</text><use href="#my" x="1204.4" y="189.9"/><text class="t" x="1212.6" y="192.9">课程</text></g>
<g id="kc8-limit"><path class="uy" d="M1161.4 206.6H1223.5"/><text class="t" x="1165.6" y="204.5">业务限定</text><use href="#my" x="1204.4" y="201.5"/><text class="t" x="1212.6" y="204.5">无</text></g>
<g id="kc8-proc"><path class="uy" d="M1254.2 148.8H1340.7"/><text class="t" x="1258.4" y="146.7">业务过程</text><use href="#my" x="1297.2" y="143.7"/><text class="t" x="1305.4" y="146.7">用户下单</text></g>
<g id="kc8-meas"><path class="uy" d="M1252.7 160.4H1321"/><text class="t" x="1258.4" y="158.3">度量</text><use href="#my" x="1281" y="155.3"/><text class="t" x="1288.8" y="158.3" textLength="28.35">user_id</text></g>
<g id="kc8-agg"><path class="uy" d="M1254.2 172H1373"/><text class="t" x="1258.4" y="169.9">聚合逻辑</text><use href="#my" x="1297.2" y="166.9"/><text class="t" x="1305.4" y="169.9" textLength="64.8">count(distinct )</text></g>
</g>

<g id="kc9" transform="translate(0,646.4)">
<g id="kc9-name"><path class="uy" d="M987 160.4H1112"/><text class="t" x="991" y="158.3" textLength="113.4">最近 1/7/30 日各课程下单金额</text><use href="#my" x="1110.6" y="155.3"/></g>
<g id="kc9-type"><path class="uy" d="M1115 137.4H1201.5"/><text class="t" x="1119" y="135.3">指标类型</text><use href="#my" x="1157.8" y="132.3"/><text class="t" x="1166" y="135.3">派生指标</text></g>
<g id="kc9-def"><path class="uy" d="M1115 183.5H1159.5"/><text class="t" x="1119" y="181.4">指标定义</text><use href="#my" x="1157.8" y="178.4"/></g>
<g id="kc9-atom"><path class="uy" d="M1161.4 160.4H1252"/><text class="t" x="1165.6" y="158.3">原子指标</text><use href="#my" x="1204.4" y="155.3"/><text class="t" x="1212.6" y="158.3">下单金额</text><use href="#my" x="1250.8" y="155.3"/></g>
<g id="kc9-period"><path class="uy" d="M1161.4 183.5H1272"/><text class="t" x="1165.6" y="181.4">统计周期</text><use href="#my" x="1204.4" y="178.4"/><text class="t" x="1212.6" y="181.4" textLength="56.7">最近 1/7/30 日</text></g>
<g id="kc9-grain"><path class="uy" d="M1161.4 195H1231.4"/><text class="t" x="1165.6" y="192.9">统计粒度</text><use href="#my" x="1204.4" y="189.9"/><text class="t" x="1212.6" y="192.9">课程</text></g>
<g id="kc9-limit"><path class="uy" d="M1161.4 206.6H1223.5"/><text class="t" x="1165.6" y="204.5">业务限定</text><use href="#my" x="1204.4" y="201.5"/><text class="t" x="1212.6" y="204.5">无</text></g>
<g id="kc9-proc"><path class="uy" d="M1254.2 148.8H1340.7"/><text class="t" x="1258.4" y="146.7">业务过程</text><use href="#my" x="1297.2" y="143.7"/><text class="t" x="1305.4" y="146.7">用户下单</text></g>
<g id="kc9-meas"><path class="uy" d="M1252.7 160.4H1341"/><text class="t" x="1258.4" y="158.3">度量</text><use href="#my" x="1281" y="155.3"/><text class="t" x="1288.8" y="158.3" textLength="48.6">order_amount</text></g>
<g id="kc9-agg"><path class="uy" d="M1254.2 172H1329"/><text class="t" x="1258.4" y="169.9">聚合逻辑</text><use href="#my" x="1297.2" y="166.9"/><text class="t" x="1305.4" y="169.9" textLength="20.25">sum()</text></g>
</g>

<g id="kc10">
<g id="kc10-name"><path class="uy" d="M987 887.7H1128"/><text class="t" x="991" y="885.6" textLength="129.6">最近 1/7/30 日各课程用户平均评分</text><use href="#my" x="1126.8" y="882.6"/></g>
<g id="kc10-type"><path class="uy" d="M1131 864.7H1217.5"/><text class="t" x="1135" y="862.6">指标类型</text><use href="#my" x="1173.8" y="859.6"/><text class="t" x="1182" y="862.6">派生指标</text></g>
<g id="kc10-def"><path class="uy" d="M1131 911H1175.5"/><text class="t" x="1135" y="908.9">指标定义</text><use href="#my" x="1173.8" y="905.9"/></g>
<g id="kc10-atom"><path class="uy" d="M1177.4 887.7H1284.5"/><text class="t" x="1181.6" y="885.6">原子指标</text><use href="#my" x="1220.4" y="882.6"/><text class="t" x="1228.6" y="885.6">用户平均评分</text><use href="#my" x="1283.4" y="882.6"/></g>
<g id="kc10-period"><path class="uy" d="M1177.4 911H1288"/><text class="t" x="1181.6" y="908.9">统计周期</text><use href="#my" x="1220.4" y="905.9"/><text class="t" x="1228.6" y="908.9" textLength="56.7">最近 1/7/30 日</text></g>
<g id="kc10-grain"><path class="uy" d="M1177.4 922.5H1247.4"/><text class="t" x="1181.6" y="920.4">统计粒度</text><use href="#my" x="1220.4" y="917.4"/><text class="t" x="1228.6" y="920.4">课程</text></g>
<g id="kc10-limit"><path class="uy" d="M1177.4 934H1239.5"/><text class="t" x="1181.6" y="931.9">业务限定</text><use href="#my" x="1220.4" y="928.9"/><text class="t" x="1228.6" y="931.9">无</text></g>
<g id="kc10-proc"><path class="uy" d="M1286.4 876.1H1373"/><text class="t" x="1290.6" y="874">业务过程</text><use href="#my" x="1329.4" y="871"/><text class="t" x="1337.6" y="874">用户评价</text></g>
<g id="kc10-meas"><path class="uy" d="M1284.9 887.7H1373"/><text class="t" x="1290.6" y="885.6">度量</text><use href="#my" x="1313.2" y="882.6"/><text class="t" x="1321" y="885.6" textLength="48.6">review_stars</text></g>
<g id="kc10-agg"><path class="uy" d="M1286.4 899.4H1361"/><text class="t" x="1290.6" y="897.3">聚合逻辑</text><use href="#my" x="1329.4" y="894.3"/><text class="t" x="1337.6" y="897.3" textLength="20.25">avg()</text></g>
</g>

<g id="kc11">
<g id="kc11-name"><path class="uy" d="M987 968.7H1120.7"/><text class="t" x="991" y="966.6" textLength="121.5">最近 1/7/30 日各课程评价用户数</text><use href="#my" x="1118.9" y="963.6"/></g>
<g id="kc11-type"><path class="uy" d="M1123 945.7H1209.5"/><text class="t" x="1127" y="943.6">指标类型</text><use href="#my" x="1165.8" y="940.6"/><text class="t" x="1174" y="943.6">派生指标</text></g>
<g id="kc11-def"><path class="uy" d="M1123 992H1167.5"/><text class="t" x="1127" y="989.9">指标定义</text><use href="#my" x="1165.8" y="986.9"/></g>
<g id="kc11-atom"><path class="uy" d="M1169.4 968.7H1268"/><text class="t" x="1173.6" y="966.6">原子指标</text><use href="#my" x="1212.4" y="963.6"/><text class="t" x="1220.6" y="966.6">评价用户数</text><use href="#my" x="1267" y="963.6"/></g>
<g id="kc11-period"><path class="uy" d="M1169.4 992H1280"/><text class="t" x="1173.6" y="989.9">统计周期</text><use href="#my" x="1212.4" y="986.9"/><text class="t" x="1220.6" y="989.9" textLength="56.7">最近 1/7/30 日</text></g>
<g id="kc11-grain"><path class="uy" d="M1169.4 1003.3H1239.4"/><text class="t" x="1173.6" y="1001.2">统计粒度</text><use href="#my" x="1212.4" y="998.2"/><text class="t" x="1220.6" y="1001.2">课程</text></g>
<g id="kc11-limit"><path class="uy" d="M1169.4 1014.9H1231.5"/><text class="t" x="1173.6" y="1012.8">业务限定</text><use href="#my" x="1212.4" y="1009.8"/><text class="t" x="1220.6" y="1012.8">无</text></g>
<g id="kc11-proc"><path class="uy" d="M1270.3 957.1H1356.8"/><text class="t" x="1274.5" y="955">业务过程</text><use href="#my" x="1313.3" y="952"/><text class="t" x="1321.5" y="955">用户评价</text></g>
<g id="kc11-meas"><path class="uy" d="M1268.8 968.7H1337"/><text class="t" x="1274.5" y="966.6">度量</text><use href="#my" x="1297.1" y="963.6"/><text class="t" x="1304.9" y="966.6" textLength="28.35">user_id</text></g>
<g id="kc11-agg"><path class="uy" d="M1270.3 980.3H1352.6"/><text class="t" x="1274.5" y="978.2">聚合逻辑</text><use href="#my" x="1313.3" y="975.2"/><text class="t" x="1321.5" y="978.2" textLength="28.35">count()</text></g>
</g>

<g id="kc12">
<g id="kc12-name"><path class="uy" d="M987 1113H1120.7"/><text class="t" x="991" y="1110.9" textLength="121.5">最近 1/7/30 日各课程用户好评率</text><use href="#my" x="1118.9" y="1107.9"/></g>
<g id="kc12-type"><path class="uy" d="M1123 1026.5H1209.5"/><text class="t" x="1127" y="1024.4">指标类型</text><use href="#my" x="1165.8" y="1021.4"/><text class="t" x="1174" y="1024.4">衍生指标</text></g>
<g id="kc12-dep"><path class="uy" d="M1123 1101.6H1191"/><text class="t" x="1127" y="1099.5">依赖的派生指标</text><use href="#my" x="1189.9" y="1096.5"/></g>
<g id="kc12-calc"><path class="uy" d="M1123 1199.7H1290"/><text class="t" x="1127" y="1197.6">计算逻辑</text><use href="#my" x="1169.3" y="1194.6"/><text class="t" x="1176.8" y="1197.6" textLength="109.35">praise_count / review_count</text></g>
<g id="kc12-a">
<g id="kc12-a-name"><path class="uy" d="M1193.6 1061.1H1326.4"/><text class="t" x="1197.6" y="1059" textLength="121.5">最近 1/7/30 日各课程好评用户数</text><use href="#my" x="1325.4" y="1056"/></g>
<g id="kc12-a-type"><path class="uy" d="M1329 1038H1415.5"/><text class="t" x="1333" y="1035.9">指标类型</text><use href="#my" x="1371.8" y="1032.9"/><text class="t" x="1380" y="1035.9">派生指标</text></g>
<g id="kc12-a-def"><path class="uy" d="M1329 1084.3H1373.5"/><text class="t" x="1333" y="1082.2">指标定义</text><use href="#my" x="1371.8" y="1079.2"/></g>
<g id="kc12-a-atom"><path class="uy" d="M1375.4 1061.1H1474.6"/><text class="t" x="1379.6" y="1059">原子指标</text><use href="#my" x="1418.4" y="1056"/><text class="t" x="1426.6" y="1059">评价用户数</text><use href="#my" x="1473.5" y="1056"/></g>
<g id="kc12-a-period"><path class="uy" d="M1375.4 1084.3H1486"/><text class="t" x="1379.6" y="1082.2">统计周期</text><use href="#my" x="1418.4" y="1079.2"/><text class="t" x="1426.6" y="1082.2" textLength="56.7">最近 1/7/30 日</text></g>
<g id="kc12-a-grain"><path class="uy" d="M1375.4 1095.7H1446"/><text class="t" x="1379.6" y="1093.6">统计粒度</text><use href="#my" x="1418.4" y="1090.6"/><text class="t" x="1426.6" y="1093.6">课程</text></g>
<g id="kc12-a-limit"><path class="uy" d="M1375.4 1107.4H1494"/><text class="t" x="1379.6" y="1105.3">业务限定</text><use href="#my" x="1418.4" y="1102.3"/><text class="t" x="1426.6" y="1105.3" textLength="64.8">review_stars = 5</text></g>
<g id="kc12-a-proc"><path class="uy" d="M1476.3 1049.6H1563"/><text class="t" x="1480.5" y="1047.5">业务过程</text><use href="#my" x="1519.3" y="1044.5"/><text class="t" x="1527.5" y="1047.5">用户评价</text></g>
<g id="kc12-a-meas"><path class="uy" d="M1474.8 1061.1H1543"/><text class="t" x="1480.5" y="1059">度量</text><use href="#my" x="1503.1" y="1056"/><text class="t" x="1510.9" y="1059" textLength="28.35">user_id</text></g>
<g id="kc12-a-agg"><path class="uy" d="M1476.3 1072.6H1558.7"/><text class="t" x="1480.5" y="1070.5">聚合逻辑</text><use href="#my" x="1519.3" y="1067.5"/><text class="t" x="1527.5" y="1070.5" textLength="28.35">count()</text></g>
</g>
<g id="kc12-b" transform="translate(0,80.8)">
<g id="kc12-b-name"><path class="uy" d="M1193.6 1061.1H1326.4"/><text class="t" x="1197.6" y="1059" textLength="121.5">最近 1/7/30 日各课程评价用户数</text><use href="#my" x="1325.4" y="1056"/></g>
<g id="kc12-b-type"><path class="uy" d="M1329 1038H1415.5"/><text class="t" x="1333" y="1035.9">指标类型</text><use href="#my" x="1371.8" y="1032.9"/><text class="t" x="1380" y="1035.9">派生指标</text></g>
<g id="kc12-b-def"><path class="uy" d="M1329 1084.3H1373.5"/><text class="t" x="1333" y="1082.2">指标定义</text><use href="#my" x="1371.8" y="1079.2"/></g>
<g id="kc12-b-atom"><path class="uy" d="M1375.4 1061.1H1474.6"/><text class="t" x="1379.6" y="1059">原子指标</text><use href="#my" x="1418.4" y="1056"/><text class="t" x="1426.6" y="1059">评价用户数</text><use href="#my" x="1473.5" y="1056"/></g>
<g id="kc12-b-period"><path class="uy" d="M1375.4 1084.3H1486"/><text class="t" x="1379.6" y="1082.2">统计周期</text><use href="#my" x="1418.4" y="1079.2"/><text class="t" x="1426.6" y="1082.2" textLength="56.7">最近 1/7/30 日</text></g>
<g id="kc12-b-grain"><path class="uy" d="M1375.4 1095.7H1446"/><text class="t" x="1379.6" y="1093.6">统计粒度</text><use href="#my" x="1418.4" y="1090.6"/><text class="t" x="1426.6" y="1093.6">课程</text></g>
<g id="kc12-b-limit"><path class="uy" d="M1375.4 1107.4H1438"/><text class="t" x="1379.6" y="1105.3">业务限定</text><use href="#my" x="1418.4" y="1102.3"/><text class="t" x="1426.6" y="1105.3">无</text></g>
<g id="kc12-b-proc"><path class="uy" d="M1476.3 1049.6H1563"/><text class="t" x="1480.5" y="1047.5">业务过程</text><use href="#my" x="1519.3" y="1044.5"/><text class="t" x="1527.5" y="1047.5">用户评价</text></g>
<g id="kc12-b-meas"><path class="uy" d="M1474.8 1061.1H1543"/><text class="t" x="1480.5" y="1059">度量</text><use href="#my" x="1503.1" y="1056"/><text class="t" x="1510.9" y="1059" textLength="28.35">user_id</text></g>
<g id="kc12-b-agg"><path class="uy" d="M1476.3 1072.6H1558.7"/><text class="t" x="1480.5" y="1070.5">聚合逻辑</text><use href="#my" x="1519.3" y="1067.5"/><text class="t" x="1527.5" y="1070.5" textLength="28.35">count()</text></g>
</g>
</g>

</g>
</svg>
